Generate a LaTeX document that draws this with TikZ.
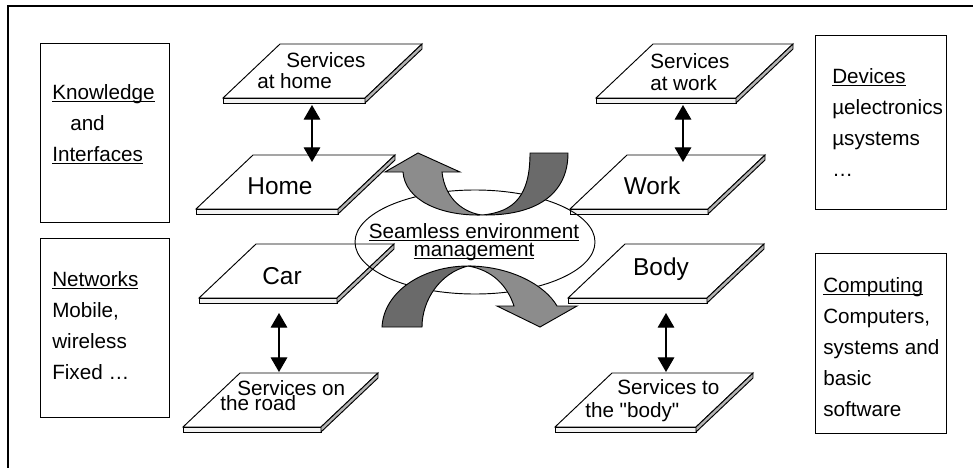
\documentclass[tikz,border=0pt]{standalone}
\usepackage{fontspec}
\setmainfont{Liberation Sans}
\newfontfamily\straightq{Liberation Sans}
\usetikzlibrary{arrows.meta,shapes.geometric}
\definecolor{arrowlight}{HTML}{8C8C8C}
\definecolor{arrowdark}{HTML}{6A6A6A}
\definecolor{slabside}{HTML}{B4B4B4}
\definecolor{slabfront}{HTML}{F2F2F2}
\newcommand{\ulbl}[1]{\underline{\smash{#1}\vphantom{A}}}
\newcommand{\plate}[3]{%
  \draw[plate,fill=white] (#1,#2) -- ++(#3,0) -- ++(-57,54) -- ++(-#3,0) -- cycle;
  \draw[plate,fill=slabfront] (#1-57,#2+54) -- ++(#3,0) -- ++(0,5) -- ++(-#3,0) -- cycle;
  \draw[plate,fill=slabside] (#1+#3,#2) -- ++(-57,54) -- ++(0,5) -- ++(57,-54) -- cycle;}
\begin{document}
\begin{tikzpicture}[x=0.75pt,y=-0.75pt,
    plate/.style={line width=0.7pt},
    box/.style={draw,line width=0.7pt,inner sep=0pt},
    txt/.style={anchor=north west,inner sep=0pt,align=left,font=\fontsize{15.5pt}{23.25pt}\selectfont},
    big/.style={anchor=base,inner sep=0pt,font=\fontsize{18.3pt}{22pt}\selectfont},
    small/.style={anchor=north west,inner sep=0pt,align=left},
    link/.style={line width=0.9pt,{Triangle[width=12.5pt,length=11pt]}-{Triangle[width=12.5pt,length=11pt]}},
    turnarrow/.style={draw=black,line width=0.7pt}]
    \useasboundingbox (0,0) rectangle (973,468);
    \draw[line width=2.2pt] (7,6) -- (973,6);
    \draw[line width=0.9pt] (8,6) -- (8,468);

    \node[box,minimum width=96.75pt,minimum height=134.25pt] (knowbox) at (104.5,132.5) {};
    \node[txt] (know) at (52,85) {\ulbl{Knowledge}\\\hspace*{13.5pt}and\\\ulbl{Interfaces}};
    \node[box,minimum width=96.75pt,minimum height=134.25pt] (netbox) at (104.5,327.5) {};
    \node[txt] (net) at (52,272) {\ulbl{Networks}\\Mobile,\\wireless\\Fixed …};
    \node[box,minimum width=98.25pt,minimum height=130.5pt] (devbox) at (880.5,122) {};
    \node[txt] (dev) at (832,69) {\ulbl{Devices}\\µelectronics\\µsystems\\…};
    \node[box,minimum width=98.25pt,minimum height=135pt] (compbox) at (880.5,343) {};
    \node[txt] (comp) at (823,278) {\ulbl{Computing}\\Computers,\\systems and\\basic\\software};

    \plate{280}{44}{142}
    \plate{253}{155}{142}
    \plate{653}{44}{140}
    \plate{627}{155}{138}
    \plate{256}{244}{138}
    \plate{240}{373}{138}
    \plate{625}{244}{139}
    \plate{612}{373}{141}

    \node[big] (home) at (280,194) {Home};
    \node[big] (work) at (652,194) {Work};
    \node[big] (car) at (282,284) {Car};
    \node[big] (body) at (661,275) {Body};
    \node[small,font=\fontsize{15.5pt}{15.75pt}\selectfont] (shome) at (257,52) {\hspace*{21.75pt}Services\\at home};
    \node[small,font=\fontsize{15.5pt}{16.5pt}\selectfont] (swork) at (650,53) {Services\\at work};
    \node[small,font={\fontsize{15.5pt}{11.6pt}\selectfont\lineskiplimit-20pt\relax}] (sroad) at (220,380) {\hspace*{12.75pt}Services on\\the road};
    \node[small,font=\fontsize{15.5pt}{17.25pt}\selectfont] (sbody) at (585,379) {\hspace*{24pt}Services to\\the {\straightq"}body{\straightq"}};

    \coordinate (shome-s) at (312,105);
    \coordinate (home-n) at (312,162);
    \coordinate (swork-s) at (683,105);
    \coordinate (work-n) at (683,162);
    \coordinate (car-s) at (279,313);
    \coordinate (sroad-n) at (279,372);
    \coordinate (body-s) at (666,313);
    \coordinate (sbody-n) at (666,372);
    \draw[link] (shome-s) -- (home-n);
    \draw[link] (swork-s) -- (work-n);
    \draw[link] (car-s) -- (sroad-n);
    \draw[link] (body-s) -- (sbody-n);

    \node[draw,ellipse,line width=0.7pt,minimum width=180pt,minimum height=78pt,inner sep=0pt] (sem) at (475,242) {};
    \node[align=center,inner sep=0pt,font={\fontsize{15.5pt}{13.6pt}\selectfont\lineskiplimit-20pt\relax}] (semtxt) at (474,242) {\ulbl{Seamless environment}\\\ulbl{management}};

    \filldraw[turnarrow,fill=arrowlight] (418,153) -- (460,172) -- (442,172) .. controls (445,200) and (465,213) .. (482,215) .. controls (440,216) and (405,200) .. (403,172) -- (385,172) -- cycle;
    \filldraw[turnarrow,fill=arrowdark] (530,153) -- (568,153) .. controls (568,195) and (535,216) .. (482,215) .. controls (515,212) and (530,195) .. (530,153) -- cycle;
    \filldraw[turnarrow,fill=arrowdark] (382,327) -- (422,327) .. controls (422,300) and (440,273) .. (468,266) .. controls (425,266) and (384,290) .. (382,327) -- cycle;
    \filldraw[turnarrow,fill=arrowlight] (468,266) .. controls (510,266) and (545,285) .. (557,306) -- (577,306) -- (540,327) -- (497,306) -- (514,306) .. controls (507,285) and (492,270) .. (468,266) -- cycle;
\end{tikzpicture}
\end{document}
